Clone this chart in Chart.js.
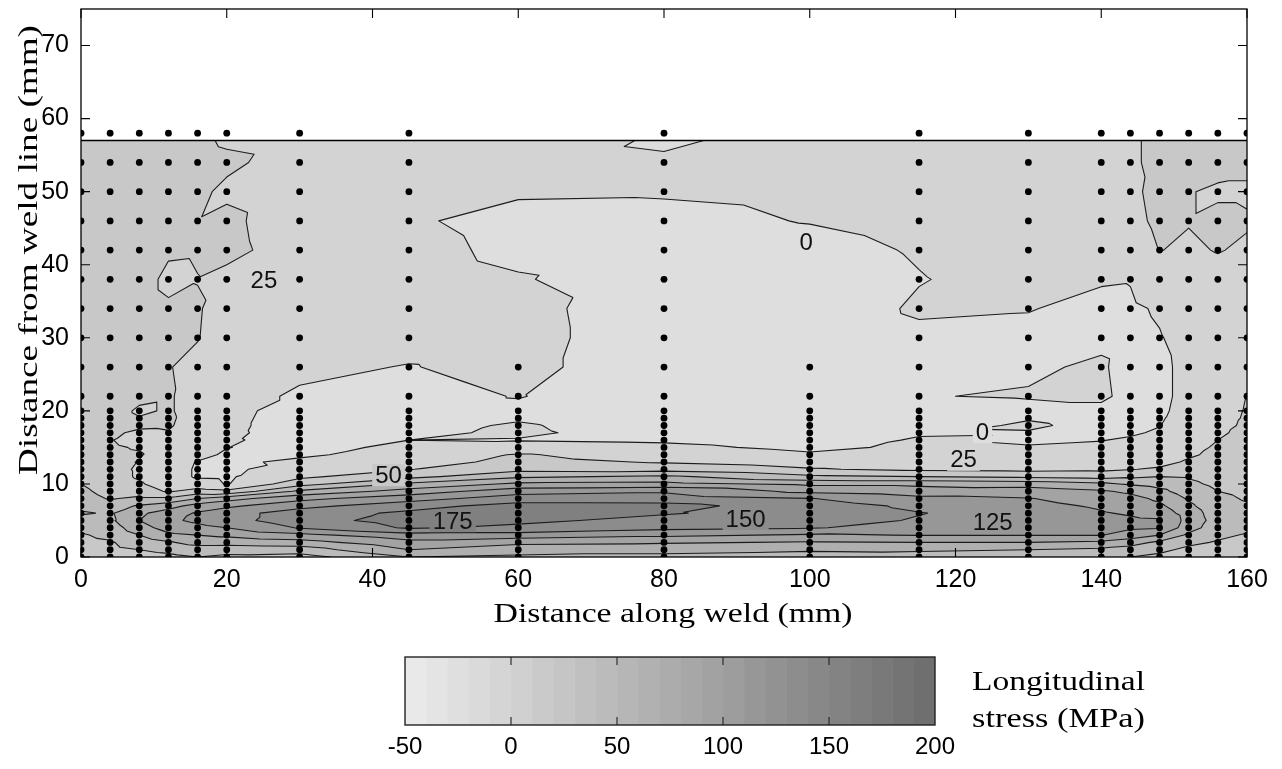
<!DOCTYPE html>
<html>
<head>
<meta charset="utf-8">
<title>Longitudinal stress map</title>
<script src="https://cdn.jsdelivr.net/npm/chart.js@4.4.1/dist/chart.umd.min.js"></script>
<style>
  html, body { margin: 0; padding: 0; background: #ffffff; }
  body { width: 1282px; height: 769px; position: relative; overflow: hidden; }
  #mapCanvas { position: absolute; left: 0; top: 0; }
  #scaleCanvas { position: absolute; left: 0; top: 640px; }
</style>
</head>
<body>
<canvas id="mapCanvas" width="1282" height="640"></canvas>
<canvas id="scaleCanvas" width="1282" height="129"></canvas>
<script>
// ---------------------------------------------------------------------------
// Measurement grid (mm)
// ---------------------------------------------------------------------------
const alongWeld = [0, 4, 8, 12, 16, 20, 30, 45, 60, 80, 100, 115, 130, 140, 144, 148, 152, 156, 160];
const fromWeld = [0, 1, 2, 3, 4, 5, 6, 7, 8, 9, 10, 11, 12, 13, 14, 15, 16, 17, 18, 19, 20,
                  22, 26, 30, 34, 38, 42, 46, 50, 54, 57];

// Longitudinal stress (MPa) along each scan line, from the weld line outwards
const stressAt0   = [38, 40, 44, 48, 52, 65, 78, 68, 60, 55, 50, 45, 42, 40, 38, 37, 36, 36, 35, 35, 35,  35, 33, 30, 30, 34, 36, 37, 37, 36, 35];
const stressAt4   = [40, 45, 48, 55, 62, 70, 72, 62, 48, 42, 38, 35, 33, 31, 30, 28, 26, 28, 32, 34, 34,  34, 35, 36, 36, 37, 38, 38, 38, 37, 36];
const stressAt8   = [42, 50, 60, 75, 90, 100, 95, 78, 55, 38, 28, 22, 22, 24, 27, 23, 18, 22, 28, 26, 22,  30, 32, 33, 34, 34, 36, 36, 36, 35, 34];
const stressAt12  = [45, 55, 72, 95, 110, 120, 112, 90, 55, 22, 12, 8, 8, 10, 12, 14, 18, 24, 27, 28, 27,  27, 26, 28, 28, 20, 28, 32, 34, 34, 33];
const stressAt16  = [50, 62, 85, 100, 118, 130, 128, 110, 75, 35, 8, -2, -2, -1, 6, 10, 12, 14, 16, 17, 17,  17, 19, 26, 27, 24.5, 27, 25.5, 28, 30, 28];
const stressAt20  = [45, 60, 85, 105, 125, 140, 140, 120, 90, 30, -1, -3, -5, -4, -3, 0.5, 3, 5, 6, 7, 8,  8, 10, 12, 15, 20, 30, 29, 22, 28, 23];
const stressAt30  = [40, 62, 90, 118, 152, 165, 162, 142, 118, 80, 40, 20, 12, 4, -3, -6, -9, -11, -12, -12, -11,  -3, 5, 10, 12, 14, 16, 14, 15, 18, 20];
const stressAt45  = [75, 100, 118, 140, 178, 185, 180, 165, 140, 110, 80, 42, 24, 14, 8, 4, 0, -4, -6, -7, -8,  -8, -1, 8, 10, 10, 8, 3, 10, 15, 18];
const stressAt60  = [70, 88, 105, 140, 170, 180, 185, 185, 162, 140, 105, 70, 43, 32, 27, 8, -1, 3, 2, -2, -5,  1, 8, 10, 9, 2, -6, -8, 3, 8, 12];
const stressAt80  = [70, 81, 103, 130, 157, 168, 177, 183, 162, 147, 107, 80, 40, 23, 14, 5, -3, -8, -10, -12, -13,  -15, -18, -18, -18, -15, -12, -6, 2, 3, -3];
const stressAt100 = [65, 78, 98, 122, 152, 160, 165, 162, 151, 118, 95, 55, 27, 15, 3, -5, -10, -12, -13, -14, -14,  -14, -15, -15, -14, -12, -8, 1, 5, 6, 8];
const stressAt115 = [60, 80, 100, 126, 140, 148, 151, 145, 132, 110, 95, 50, 20, 12, 8, 4, 2, -2, -6, -6, -7,  -0.5, -7, -5, 3, -1, 2, 8, 12, 15, 15];
const stressAt130 = [55, 75, 100, 126, 135, 140, 138, 132, 126, 112, 90, 45, 18, 10, 5, 1, -2, -1, 2, -1, -4,  1, -2, -6, 1, 8, 12, 15, 15, 16, 16];
const stressAt140 = [50, 70, 95, 126, 132, 135, 127, 122, 115, 103, 80, 40, 20, 12, 6, 3, -0.5, -3, -4, -5, -4,  3, 2, -3, -6, 2, 10, 15, 18, 20, 20];
const stressAt144 = [50, 65, 85, 115, 128, 130, 122, 115, 108, 95, 72, 45, 24, 15, 8, 4, 2, -2, -3, -4, -5,  -5, -6, -5, -3, 1, 12, 18, 20, 22, 22];
const stressAt148 = [45, 55, 70, 100, 126, 128, 115, 105, 95, 82, 65, 50, 28, 18, 12, 8, 5, 2, -0.5, -2, -3,  -4, -4, -1, 2, 12, 25.5, 30, 32, 30, 30];
const stressAt152 = [40, 45, 55, 70, 85, 90, 88, 80, 72, 62, 55, 48, 40, 28, 22, 18, 14, 12, 10, 8, 6,  5, 5, 6, 10, 15, 22, 26, 26, 30, 32];
const stressAt156 = [35, 40, 48, 55, 62, 65, 62, 58, 55, 50, 45, 40, 36, 33, 30, 28, 25, 22, 18, 15, 13,  10, 10, 12, 15, 18, 26, 30, 22, 32, 33];
const stressAt160 = [30, 35, 40, 48, 55, 60, 55, 52, 48, 45, 42, 40, 38, 36, 34, 32, 31, 30, 29, 28, 27,  25.5, 20, 18, 18, 20, 22, 27, 22, 30, 32];

const stressColumns = [stressAt0, stressAt4, stressAt8, stressAt12, stressAt16, stressAt20, stressAt30,
  stressAt45, stressAt60, stressAt80, stressAt100, stressAt115, stressAt130, stressAt140, stressAt144,
  stressAt148, stressAt152, stressAt156, stressAt160];

// Contour levels and filled bands (MPa)
const contourLevels = [-25, 0, 25, 50, 75, 100, 125, 150, 175];
const bandEdges = [-50, -25, 0, 25, 50, 75, 100, 125, 150, 175, 200];

// Measurement points shown as dots
const nearRows = [0, 1, 2, 3, 4, 5, 6, 7, 8, 9, 10, 11, 12, 13, 14, 15, 16, 17, 18, 19, 20];
const farRows = [22, 26, 30, 34, 38, 42, 46, 50, 54, 58];
const shortLines = [60, 100];
const shortLineRows = [22, 26];
const mappedLimit = 57;

// Inline contour labels
const contourLabels = [
  { level: 25, x: 25.1, y: 37.8 },
  { level: 0, x: 99.5, y: 43.0 },
  { level: 0, x: 123.7, y: 17.1 },
  { level: 25, x: 121.1, y: 13.3 },
  { level: 50, x: 42.2, y: 11.2 },
  { level: 175, x: 51.0, y: 4.9 },
  { level: 150, x: 91.2, y: 5.2 },
  { level: 125, x: 125.1, y: 4.8 }
];

// Colour bar
const colorbarSteps = [-50, -40, -30, -20, -10, 0, 10, 20, 30, 40, 50, 60, 70, 80, 90, 100,
                       110, 120, 130, 140, 150, 160, 170, 180, 190, 200];
const colorbarTicks = [-50, 0, 50, 100, 150, 200];

// ---------------------------------------------------------------------------
// Styles
// ---------------------------------------------------------------------------
const bandGreys = [232, 222, 211, 200, 187, 175, 163, 151, 140, 128];
const lineColour = '#1c1c1c';
const TICK = 9;
Chart.defaults.font.family = '"Liberation Sans", Arial, sans-serif';
Chart.defaults.color = '#000';

// ---------------------------------------------------------------------------
// Interpolation on the triangulated grid
// ---------------------------------------------------------------------------
const nCols = alongWeld.length;
const nRows = fromWeld.length;
const grid = fromWeld.map((_, r) => stressColumns.map(col => col[r]));

function locate(arr, v) {
  let i = 0;
  while (i < arr.length - 2 && v > arr[i + 1]) i++;
  return i;
}
function stressAt(xv, yv) {
  const c = locate(alongWeld, xv), r = locate(fromWeld, yv);
  const u = (xv - alongWeld[c]) / (alongWeld[c + 1] - alongWeld[c]);
  const w = (yv - fromWeld[r]) / (fromWeld[r + 1] - fromWeld[r]);
  const v00 = grid[r][c], v10 = grid[r][c + 1], v01 = grid[r + 1][c], v11 = grid[r + 1][c + 1];
  if (u >= w) return v00 + u * (v10 - v00) + w * (v11 - v10);
  return v00 + w * (v01 - v00) + u * (v11 - v01);
}
function bandOf(v) {
  for (let i = bandEdges.length - 2; i >= 0; i--) if (v >= bandEdges[i]) return i;
  return 0;
}

// Marching triangles: polylines of one contour level, in data units
function contourPaths(level) {
  const segs = [];
  const pts = new Map();
  const vert = (r, c) => ({ id: r * nCols + c, x: alongWeld[c], y: fromWeld[r], v: grid[r][c] });
  function edgePoint(a, b) {
    const key = a.id < b.id ? a.id + ':' + b.id : b.id + ':' + a.id;
    if (!pts.has(key)) {
      const t = (level - a.v) / (b.v - a.v);
      pts.set(key, { x: a.x + t * (b.x - a.x), y: a.y + t * (b.y - a.y) });
    }
    return key;
  }
  function tri(a, b, c) {
    const cross = [];
    [[a, b], [b, c], [c, a]].forEach(([p, q]) => {
      if ((p.v >= level) !== (q.v >= level)) cross.push(edgePoint(p, q));
    });
    if (cross.length === 2) segs.push(cross);
  }
  for (let r = 0; r < nRows - 1; r++) {
    for (let c = 0; c < nCols - 1; c++) {
      const p00 = vert(r, c), p10 = vert(r, c + 1), p01 = vert(r + 1, c), p11 = vert(r + 1, c + 1);
      tri(p00, p10, p11);
      tri(p00, p01, p11);
    }
  }
  const adj = new Map();
  segs.forEach((s, i) => s.forEach(k => { if (!adj.has(k)) adj.set(k, []); adj.get(k).push(i); }));
  const used = new Array(segs.length).fill(false);
  const starts = [...adj.keys()].filter(k => adj.get(k).length === 1).concat([...adj.keys()]);
  const lines = [];
  for (const start of starts) {
    for (const si of adj.get(start)) {
      if (used[si]) continue;
      const line = [start];
      let cur = start, seg = si;
      while (seg !== undefined) {
        used[seg] = true;
        const s = segs[seg];
        const next = s[0] === cur ? s[1] : s[0];
        line.push(next);
        cur = next;
        seg = adj.get(cur).find(j => !used[j]);
      }
      lines.push(line.map(k => pts.get(k)));
    }
  }
  return lines;
}

// ---------------------------------------------------------------------------
// Datasets
// ---------------------------------------------------------------------------
const dotPoints = [];
alongWeld.forEach(x => {
  const rows = shortLines.includes(x) ? nearRows.concat(shortLineRows) : nearRows.concat(farRows);
  rows.forEach(y => dotPoints.push({ x, y }));
});

const contourSets = contourLevels.map(level => {
  const data = [];
  contourPaths(level).forEach(line => {
    line.forEach(p => data.push({ x: p.x, y: p.y }));
    data.push({ x: line[line.length - 1].x, y: null });
  });
  return {
    label: level + ' MPa', data, showLine: true, spanGaps: false,
    borderColor: lineColour, borderWidth: 1.1, pointRadius: 0, pointHitRadius: 0,
    borderJoinStyle: 'round', tension: 0, order: 2
  };
});

const datasets = [
  { label: 'measurement points', data: dotPoints, pointRadius: 3.4, pointBackgroundColor: '#000',
    pointBorderWidth: 0, showLine: false, order: 0 },
  { label: 'mapped limit', data: [{ x: 0, y: mappedLimit }, { x: 160, y: mappedLimit }],
    showLine: true, borderColor: '#000', borderWidth: 1.4, pointRadius: 0, order: 1 }
].concat(contourSets);

// ---------------------------------------------------------------------------
// Plugins
// ---------------------------------------------------------------------------
const bandFill = {
  id: 'bandFill',
  beforeDatasetsDraw(chart) {
    const { ctx, chartArea: a, scales: { x, y } } = chart;
    const left = Math.round(a.left), right = Math.round(a.right);
    const top = Math.round(y.getPixelForValue(fromWeld[nRows - 1]));
    const bottom = Math.round(a.bottom);
    const w = right - left, h = bottom - top;
    const layer = document.createElement('canvas');
    layer.width = w; layer.height = h;
    const lctx = layer.getContext('2d');
    const img = lctx.createImageData(w, h);
    const xs = [];
    for (let i = 0; i < w; i++) xs.push(Math.min(160, Math.max(0, x.getValueForPixel(left + i + 0.5))));
    for (let j = 0; j < h; j++) {
      const yv = Math.min(fromWeld[nRows - 1], Math.max(0, y.getValueForPixel(top + j + 0.5)));
      for (let i = 0; i < w; i++) {
        const g = bandGreys[bandOf(stressAt(xs[i], yv))];
        const k = (j * w + i) * 4;
        img.data[k] = g; img.data[k + 1] = g; img.data[k + 2] = g; img.data[k + 3] = 255;
      }
    }
    lctx.putImageData(img, 0, 0);
    ctx.drawImage(layer, left, top);
  },
  beforeDatasetDraw(chart, args) {
    if (args.index !== 0) return;
    const { ctx, scales: { x, y } } = chart;
    ctx.save();
    ctx.font = '24px "Liberation Sans", Arial, sans-serif';
    ctx.textAlign = 'center';
    ctx.textBaseline = 'middle';
    contourLabels.forEach(l => {
      const px = x.getPixelForValue(l.x), py = y.getPixelForValue(l.y);
      const text = String(l.level);
      const tw = ctx.measureText(text).width;
      const g = bandGreys[bandOf(stressAt(l.x, l.y))];
      ctx.fillStyle = `rgb(${g},${g},${g})`;
      ctx.fillRect(px - tw / 2 - 3, py - 11, tw + 6, 22);
      ctx.fillStyle = '#111';
      ctx.fillText(text, px, py + 1);
    });
    ctx.restore();
  }
};

function drawStretched(ctx, text, cx, baseY, size, targetWidth, angle) {
  ctx.save();
  ctx.font = size + 'px "Liberation Serif", "Times New Roman", serif';
  const w = ctx.measureText(text).width;
  ctx.translate(cx, baseY);
  ctx.rotate(angle);
  ctx.scale(targetWidth / w, 1);
  ctx.textAlign = 'center';
  ctx.textBaseline = 'alphabetic';
  ctx.fillStyle = '#000';
  ctx.fillText(text, 0, 0);
  ctx.restore();
}

const frameAndTitles = {
  id: 'frameAndTitles',
  afterDraw(chart) {
    const { ctx, chartArea: a, scales: { x, y } } = chart;
    ctx.save();
    ctx.strokeStyle = '#000';
    ctx.lineWidth = 1.3;
    ctx.strokeRect(a.left, a.top, a.right - a.left, a.bottom - a.top);
    ctx.lineWidth = 1.1;
    ctx.beginPath();
    x.ticks.forEach(t => {
      const px = x.getPixelForValue(t.value);
      ctx.moveTo(px, a.top); ctx.lineTo(px, a.top + TICK);
      ctx.moveTo(px, a.bottom); ctx.lineTo(px, a.bottom - TICK);
    });
    y.ticks.forEach(t => {
      const py = y.getPixelForValue(t.value);
      ctx.moveTo(a.left, py); ctx.lineTo(a.left + TICK, py);
      ctx.moveTo(a.right, py); ctx.lineTo(a.right - TICK, py);
    });
    ctx.stroke();
    ctx.restore();
    drawStretched(ctx, 'Distance along weld (mm)', 673, 622, 28, 359, 0);
    drawStretched(ctx, 'Distance from weld line (mm)', 37, 250, 28, 450, -Math.PI / 2);
  }
};

// ---------------------------------------------------------------------------
// Stress map
// ---------------------------------------------------------------------------
new Chart(document.getElementById('mapCanvas'), {
  type: 'scatter',
  data: { datasets },
  options: {
    responsive: false,
    animation: false,
    events: [],
    layout: { padding: { left: 0, right: 35, top: 9, bottom: 0 } },
    plugins: { legend: { display: false }, tooltip: { enabled: false } },
    scales: {
      x: {
        type: 'linear', min: 0, max: 160,
        ticks: { stepSize: 20, font: { size: 25 }, color: '#000', padding: 8, maxRotation: 0 },
        grid: { display: false, drawTicks: false }, border: { display: false },
        afterFit(s) { s.height = 83; s.paddingLeft = 0; s.paddingRight = 0; }
      },
      y: {
        type: 'linear', min: 0, max: 75,
        ticks: { stepSize: 10, includeBounds: false, font: { size: 25 }, color: '#000', padding: 12 },
        grid: { display: false, drawTicks: false }, border: { display: false },
        afterFit(s) { s.width = 81; s.paddingTop = 0; s.paddingBottom = 0; }
      }
    }
  },
  plugins: [bandFill, frameAndTitles]
});

// ---------------------------------------------------------------------------
// Colour bar
// ---------------------------------------------------------------------------
const stepGrey = i => { const g = Math.round(233 - i * 5.1); return `rgb(${g},${g},${g})`; };

const colorbarFrame = {
  id: 'colorbarFrame',
  afterDraw(chart) {
    const { ctx, chartArea: a, scales: { x } } = chart;
    ctx.save();
    ctx.strokeStyle = '#222';
    ctx.lineWidth = 1.4;
    ctx.strokeRect(a.left, a.top, a.right - a.left, a.bottom - a.top);
    ctx.lineWidth = 1.1;
    ctx.beginPath();
    colorbarTicks.slice(1, -1).forEach(v => {
      const px = x.getPixelForValue(v);
      ctx.moveTo(px, a.top); ctx.lineTo(px, a.top + 8);
      ctx.moveTo(px, a.bottom); ctx.lineTo(px, a.bottom - 8);
    });
    ctx.stroke();
    ctx.restore();
    ctx.save();
    ctx.font = '28px "Liberation Serif", "Times New Roman", serif';
    ctx.fillStyle = '#000';
    ctx.textBaseline = 'alphabetic';
    [['Longitudinal', 50], ['stress (MPa)', 87]].forEach(([t, by]) => {
      const w = ctx.measureText(t).width;
      ctx.save();
      ctx.translate(972, by);
      ctx.scale(173 / w, 1);
      ctx.fillText(t, 0, 0);
      ctx.restore();
    });
    ctx.restore();
  }
};

new Chart(document.getElementById('scaleCanvas'), {
  type: 'bar',
  data: {
    labels: ['stress'],
    datasets: colorbarSteps.slice(0, -1).map((lo, i) => ({
      label: lo + ' MPa',
      data: [[lo, colorbarSteps[i + 1]]],
      backgroundColor: stepGrey(i),
      borderWidth: 0,
      grouped: false,
      barPercentage: 1,
      categoryPercentage: 1
    }))
  },
  options: {
    indexAxis: 'y',
    responsive: false,
    animation: false,
    events: [],
    layout: { padding: { left: 405, right: 347, top: 17, bottom: 0 } },
    plugins: { legend: { display: false }, tooltip: { enabled: false } },
    scales: {
      x: {
        type: 'linear', min: -50, max: 200,
        afterBuildTicks(s) { s.ticks = colorbarTicks.map(v => ({ value: v })); },
        ticks: { font: { size: 24 }, color: '#000', padding: 8, maxRotation: 0 },
        grid: { display: false, drawTicks: false }, border: { display: false },
        afterFit(s) { s.height = 44; s.paddingLeft = 0; s.paddingRight = 0; }
      },
      y: { display: false }
    }
  },
  plugins: [colorbarFrame]
});
</script>
</body>
</html>
